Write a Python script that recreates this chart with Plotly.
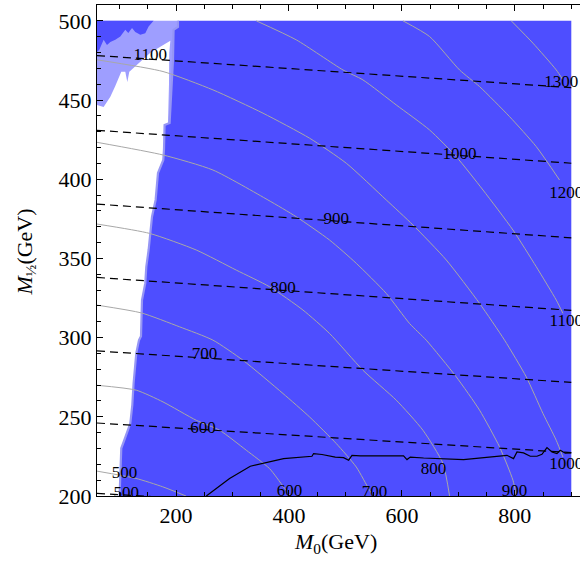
import plotly.graph_objects as go

# ---------------- data (M0, M1/2 in GeV) ----------------
# left edge of the dark-blue (allowed) region, bottom -> top
edge_m0 = [100.0, 101.3, 103.0, 108.3, 115.4, 119.0, 122.5, 124.8, 129.6, 134.4, 137.9, 139.7,
           145.5, 147.3, 151.4, 154.4, 157.4, 163.8, 168.0, 177.4, 178.6, 179.7, 188.6, 194.6,
           195.6, 203.4, 203.4]
edge_m12 = [200.0, 216.4, 230.1, 235.2, 241.5, 245.9, 257.3, 271.2, 290.2, 298.4, 300.9, 323.7,
            334.4, 344.7, 355.3, 366.0, 376.3, 386.9, 403.9, 412.2, 418.5, 434.3, 435.5, 475.4,
            494.3, 496.2, 500.0]

# right edge of the white region near the top
white_top_m0 = [185.7, 187.5, 188.0, 189.9]
white_top_m12 = [435.5, 460.0, 480.0, 487.4]

# lower edge of the light-blue region (top of the white region), left -> right
lb_m0 = [60.0, 71.7, 83.6, 92.4, 97.7, 103.0, 110.1, 113.7, 117.2, 131.4, 154.4, 172.1, 186.3, 189.9]
lb_m12 = [446.9, 445.6, 452.0, 458.9, 462.7, 467.8, 467.8, 461.4, 467.8, 472.2, 479.8, 483.6, 486.7, 487.4]

# dark-blue patch in the top-left corner
corner_m0 = [60.0, 60.0, 64.1, 71.7, 77.7, 83.6, 92.4, 101.3, 110.1, 115.4, 122.0, 127.8, 136.7,
             145.5, 151.4, 160.2]
corner_m12 = [500.0, 480.4, 481.7, 488.0, 484.8, 486.7, 488.0, 490.1, 494.3, 492.4, 495.4, 493.0,
              491.2, 492.2, 496.4, 500.0]

# grey contours (500 ... 1300)
g500_m0 = [60.0, 129.1, 176.4, 217.6]
g500_m12 = [215.7, 211.1, 205.8, 200.0]
g600_m0 = [60.0, 129.6, 176.9, 235.8, 277.1, 324.4, 365.6, 390.4, 402.3]
g600_m12 = [269.9, 266.8, 259.4, 247.8, 241.5, 228.9, 217.3, 205.7, 200.0]
g700_m0 = [60.0, 138.4, 206.3, 265.4, 318.5, 389.4, 436.5, 483.8, 519.2, 542.7, 549.3]
g700_m12 = [320.5, 315.6, 306.8, 298.4, 285.7, 264.7, 249.9, 233.1, 218.3, 203.6, 200.0]
g800_m0 = [60.0, 153.1, 235.8, 306.7, 365.6, 424.8, 471.9, 531.0, 590.0, 637.3, 672.7, 684.4]
g800_m12 = [371.7, 365.8, 355.3, 342.6, 332.1, 317.4, 302.6, 279.4, 260.5, 241.5, 220.5, 200.0]
g900_m0 = [60.0, 176.9, 265.4, 362.8, 412.9, 471.9, 519.2, 572.3, 613.6, 643.1, 696.3, 737.5,
           772.9, 796.7, 802.5]
g900_m12 = [423.3, 415.3, 405.8, 386.9, 376.3, 361.6, 346.9, 327.9, 308.9, 298.4, 275.2, 254.2,
            231.0, 209.9, 200.0]
g1000_m0 = [60.0, 176.9, 265.4, 354.0, 436.5, 501.5, 572.3, 619.6, 678.6, 737.5, 781.8, 820.2,
            849.8, 873.3, 885.2]
g1000_m12 = [475.4, 468.0, 456.4, 441.7, 425.9, 410.1, 386.9, 371.1, 349.0, 321.6, 298.4, 275.2,
             252.1, 235.2, 224.6]
g1100_m0 = [342.1, 412.9, 495.6, 531.0, 590.0, 649.0, 696.3, 743.6, 796.7, 838.0, 873.4, 885.2]
g1100_m12 = [500.0, 488.0, 469.0, 462.7, 446.9, 431.1, 414.2, 393.2, 367.9, 344.7, 323.7, 315.3]
g1200_m0 = [601.9, 649.0, 702.1, 737.5, 790.7, 837.9, 879.2]
g1200_m12 = [500.0, 490.1, 469.0, 458.5, 439.5, 420.6, 399.5]
g1300_m0 = [793.7, 832.1, 873.4, 885.2]
g1300_m12 = [500.0, 485.9, 469.0, 462.7]

grey_labels = ["500", "600", "700", "800", "900", "1000", "1100", "1200", "1300"]
grey_label_m0 = [108.9, 401.1, 551.6, 656.1, 799.5, 891.1, 891.1, 891.1, 882.2]
grey_label_m12 = [214.1, 202.5, 201.9, 216.7, 202.5, 220.0, 310.0, 391.1, 460.6]

# dashed contours (nearly straight), values at M0 = 60 and M0 = 900
dash_levels = ["500", "600", "700", "800", "900", "1000", "1100"]
dash_m0_ends = [60.0, 900.0]
dash_left = [201.7, 246.1, 291.6, 338.0, 384.3, 430.9, 478.1]
dash_right = [183.7, 227.4, 271.7, 317.2, 363.0, 410.1, 457.8]
dash_label_m0 = [111.9, 247.7, 250.5, 389.4, 483.8, 702.1, 154.4]
dash_label_m12 = [201.5, 242.6, 288.9, 331.1, 374.2, 415.3, 477.9]

# solid black contour near the bottom
solid_m0 = [253.6, 294.8, 331.5, 355.0, 390.4, 440.7, 443.6, 458.4, 482.0, 496.7, 505.6, 511.6,
            526.3, 602.9, 609.0, 614.8, 638.4, 709.2, 744.6, 786.0, 797.7, 803.8, 815.4, 827.3,
            839.2, 848.0, 856.9, 865.7, 874.6, 880.4, 889.3, 899.9]
solid_m12 = [200.0, 211.0, 218.8, 220.9, 223.6, 225.1, 226.8, 226.2, 224.6, 224.2, 222.6, 225.7,
             225.3, 225.3, 223.0, 224.6, 224.0, 223.0, 224.3, 225.7, 223.6, 227.8, 227.2, 225.1,
             225.1, 226.3, 230.6, 227.8, 226.8, 228.9, 227.0, 227.2]

# ---------------- figure ----------------
DARK = "rgb(78,78,255)"
LIGHT = "rgb(158,158,255)"
EDGE = "rgb(150,150,245)"
GREY = "rgb(168,168,168)"
FONT = "Liberation Serif"

fig = go.Figure()


def add(tr):
    tr.update(hoverinfo="skip", showlegend=False)
    fig.add_trace(tr)


# light-blue excluded region (everything left of the edge)
add(go.Scatter(x=[60.0] + edge_m0 + [60.0], y=[200.0] + edge_m12 + [500.0],
               fill="toself", fillcolor=LIGHT, mode="lines", line=dict(width=0)))

# white region
n_low = edge_m12.index(434.3) + 1
add(go.Scatter(x=[60.0] + edge_m0[:n_low] + white_top_m0 + lb_m0[::-1],
               y=[200.0] + edge_m12[:n_low] + white_top_m12 + lb_m12[::-1],
               fill="toself", fillcolor="white", mode="lines", line=dict(width=0)))

# dark corner patch
add(go.Scatter(x=corner_m0, y=corner_m12, fill="toself", fillcolor=DARK, mode="lines",
               line=dict(width=0)))

# dark-blue allowed region
add(go.Scatter(x=edge_m0 + [900.0, 900.0], y=edge_m12 + [500.0, 200.0],
               fill="toself", fillcolor=DARK, mode="lines", line=dict(width=0)))
# pale rim along the left edge of the allowed region
add(go.Scatter(x=edge_m0, y=edge_m12, mode="lines", line=dict(width=2.2, color=EDGE)))

# grey contours
for gx, gy in [(g500_m0, g500_m12), (g600_m0, g600_m12), (g700_m0, g700_m12),
               (g800_m0, g800_m12), (g900_m0, g900_m12), (g1000_m0, g1000_m12),
               (g1100_m0, g1100_m12), (g1200_m0, g1200_m12), (g1300_m0, g1300_m12)]:
    add(go.Scatter(x=gx, y=gy, mode="lines",
                   line=dict(color=GREY, width=1, shape="spline", smoothing=0.6)))

# dashed contours
for yl, yr in zip(dash_left, dash_right):
    add(go.Scatter(x=dash_m0_ends, y=[yl, yr], mode="lines",
                   line=dict(color="black", width=1.2, dash="8px,5px")))

# solid contour
add(go.Scatter(x=solid_m0, y=solid_m12, mode="lines", line=dict(color="black", width=1.2)))

# contour labels
add(go.Scatter(x=grey_label_m0, y=grey_label_m12, mode="text", text=grey_labels,
               textfont=dict(family=FONT, size=17, color="black")))
add(go.Scatter(x=dash_label_m0, y=dash_label_m12, mode="text", text=dash_levels,
               textfont=dict(family=FONT, size=17, color="black")))

axis_common = dict(showgrid=False, zeroline=False, showline=True, linecolor="black", linewidth=1,
                   ticks="inside", ticklen=6, tickwidth=1, tickcolor="black",
                   tickfont=dict(family=FONT, size=22, color="black"))

fig.update_xaxes(range=[60, 915.4], tick0=0, dtick=200, mirror="allticks",
                 minor=dict(ticks="inside", dtick=50, ticklen=4, tickcolor="black", showgrid=False),
                 **axis_common)
fig.update_yaxes(range=[200, 510], tick0=0, dtick=50, mirror=False,
                 minor=dict(ticks="inside", dtick=10, ticklen=4, tickcolor="black", showgrid=False),
                 **axis_common)

fig.update_layout(
    width=580, height=563,
    margin=dict(l=97, r=0, t=5, b=67),
    paper_bgcolor="white", plot_bgcolor="white",
    font=dict(family=FONT, color="black"),
    annotations=[
        dict(text="<i>M</i><sub>0</sub>(GeV)", xref="paper", yref="paper", x=0.493, y=-0.096,
             xanchor="center", yanchor="middle", showarrow=False,
             font=dict(family=FONT, size=22, color="black")),
        dict(text="<i>M</i><sub>½</sub>(GeV)", xref="paper", yref="paper", x=-0.148, y=0.497,
             xanchor="center", yanchor="middle", showarrow=False, textangle=-90,
             font=dict(family=FONT, size=22, color="black")),
    ],
)

fig.write_html("out.html")
